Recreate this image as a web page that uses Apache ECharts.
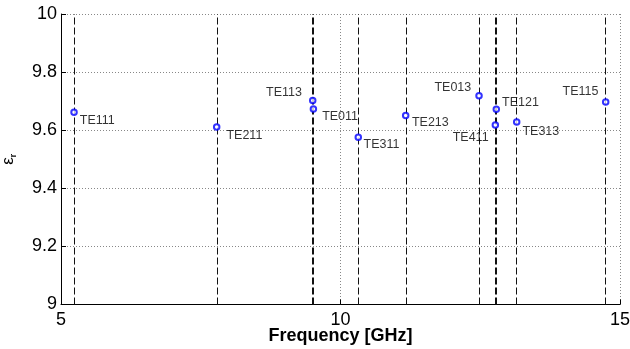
<!DOCTYPE html>
<html>
<head>
<meta charset="utf-8">
<script src="https://cdn.jsdelivr.net/npm/echarts@6/dist/echarts.min.js"></script>
<style>
html,body{margin:0;padding:0;background:#fff;}
#c{width:630px;height:349px;}
</style>
</head>
<body>
<div id="c"></div>
<script>
// ---- data ----
var modes = ['TE111','TE211','TE113','TE011','TE311','TE213','TE013','TE121','TE411','TE313','TE115'];
var freqGHz = [5.233, 7.785, 9.503, 9.515, 10.318, 11.166, 12.478, 12.787, 12.770, 13.152, 14.744];
var epsR = [9.662, 9.611, 9.702, 9.673, 9.576, 9.651, 9.719, 9.672, 9.618, 9.628, 9.697];
var xTicks = [5, 10, 15];
var yTicks = [9, 9.2, 9.4, 9.6, 9.8, 10];

// ---- label placement (style) ----
var labelPlace = {
  TE111: ['right', [2, 8.5]],
  TE211: ['right', [6, 8.5]],
  TE113: ['left', [-7, -8]],
  TE011: ['right', [5, 8]],
  TE311: ['right', [1.5, 7.5]],
  TE213: ['right', [2.5, 7.5]],
  TE013: ['left', [-4, -8]],
  TE121: ['right', [2, -7]],
  TE411: ['left', [-3, 13]],
  TE313: ['right', [2, 9]],
  TE115: ['left', [-3.5, -10]]
};

var pts = modes.map(function (m, i) {
  var p = labelPlace[m];
  return {
    name: m,
    value: [freqGHz[i], epsR[i]],
    label: { show: true, formatter: m, position: p[0], distance: 0, offset: p[1] }
  };
});

var FONT = 'Liberation Sans, Arial, Helvetica, sans-serif';
var chart = echarts.init(document.getElementById('c'), null, { renderer: 'canvas' });
chart.setOption({
  animation: false,
  backgroundColor: '#fff',
  grid: { left: 61, right: 10, top: 14, bottom: 44.5, containLabel: false, outerBoundsMode: 'none' },
  xAxis: {
    type: 'value',
    min: xTicks[0], max: xTicks[xTicks.length - 1], interval: xTicks[1] - xTicks[0],
    name: 'Frequency [GHz]',
    nameLocation: 'middle',
    nameGap: 23,
    nameMoveOverlap: false,
    nameTextStyle: { fontFamily: FONT, fontSize: 18, fontWeight: 'bold', color: '#000' },
    axisLine: { show: true, lineStyle: { color: '#000', width: 1 } },
    axisTick: { show: true, inside: true, length: 5, lineStyle: { color: '#000' } },
    axisLabel: { fontFamily: FONT, fontSize: 18, color: '#000', margin: 7 },
    splitLine: { show: true, lineStyle: { color: '#888', type: [1, 2], width: 1 } }
  },
  yAxis: {
    type: 'value',
    min: yTicks[0], max: yTicks[yTicks.length - 1], interval: 0.2,
    name: '{e|ε}{r|r}',
    nameLocation: 'middle',
    nameGap: 43,
    nameRotate: 90,
    nameMoveOverlap: false,
    nameTextStyle: {
      fontFamily: FONT, color: '#000',
      rich: {
        e: { fontFamily: FONT, fontSize: 17, color: '#000', lineHeight: 20 },
        r: { fontFamily: FONT, fontSize: 9, fontWeight: 'bold', color: '#000', lineHeight: 11, padding: [9, 0, 0, 0], verticalAlign: 'bottom' }
      }
    },
    axisLine: { show: true, lineStyle: { color: '#000', width: 1 } },
    axisTick: { show: true, inside: true, length: 5, lineStyle: { color: '#000' } },
    axisLabel: {
      fontFamily: FONT, fontSize: 18, color: '#000', margin: 4,
      formatter: function (v) { return String(Math.round(v * 10) / 10); }
    },
    splitLine: { show: true, lineStyle: { color: '#888', type: [1, 2], width: 1 } }
  },
  series: [{
    type: 'scatter',
    symbol: 'emptyCircle',
    symbolSize: 5.5,
    itemStyle: { color: '#0000ff', borderColor: '#0000ff', borderWidth: 1 },
    label: { fontFamily: FONT, fontSize: 12.5, color: '#000' },
    z: 5,
    data: pts,
    markLine: {
      silent: true,
      symbol: ['none', 'none'],
      label: { show: false },
      lineStyle: { color: '#111', type: [7, 3], width: 1 },
      emphasis: { disabled: true },
      z: 2,
      data: freqGHz.map(function (f) { return { xAxis: f }; })
    }
  }]
});
</script>
</body>
</html>
